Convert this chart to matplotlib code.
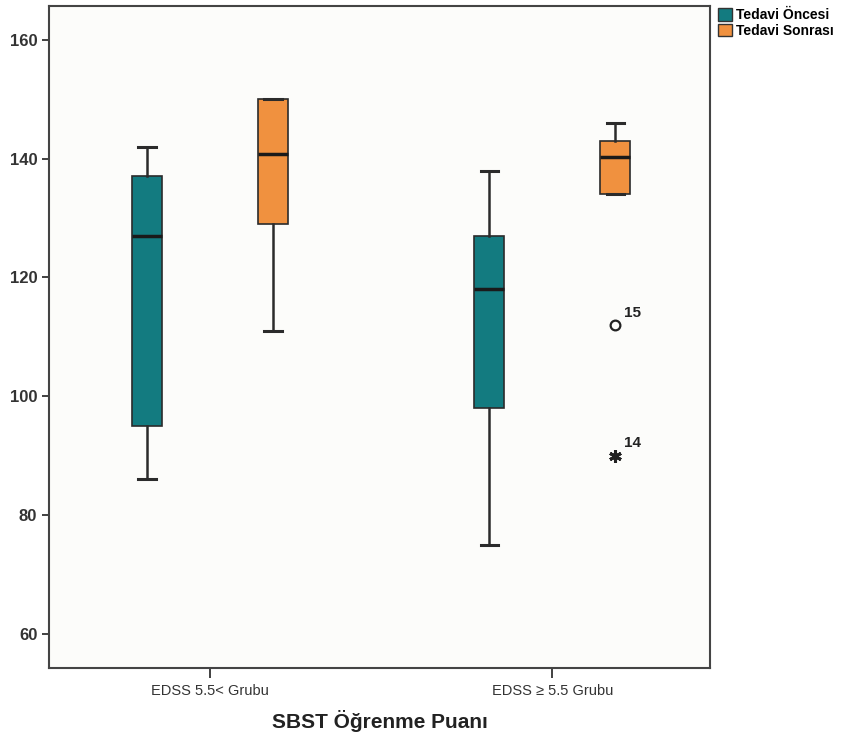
import matplotlib.pyplot as plt
from matplotlib.patches import Patch

# five-number summaries per group: low whisker, Q1, median, Q3, high whisker
groups = ["EDSS 5.5< Grubu", "EDSS \u2265 5.5 Grubu"]
series = ["Tedavi Öncesi", "Tedavi Sonrası"]
colors = ["#137B80", "#F0913F"]

before_stats = [[86, 95, 127, 137, 142], [75, 98, 118, 127, 138]]
after_stats = [[111, 129, 140.7, 150, 150], [134, 134, 140.2, 143, 146]]

# outlier (circle) and extreme (star) cases in the second group, after treatment
outlier_vals = [112]
outlier_ids = ["15"]
extreme_vals = [90]
extreme_ids = ["14"]

plt.rcParams["font.family"] = ["Liberation Sans", "DejaVu Sans"]

fig = plt.figure(figsize=(8.47, 7.42), dpi=100)
ax = fig.add_axes([0.058, 0.100, 0.780, 0.892])
ax.set_facecolor("#FCFCFA")

offset = 0.184
width = 0.088


def make_stats(vals):
    lo, q1, med, q3, hi = vals
    return dict(whislo=lo, q1=q1, med=med, q3=q3, whishi=hi, fliers=[])


for k, (stats, col) in enumerate(zip([before_stats, after_stats], colors)):
    pos = [i + (2 * k - 1) * offset for i in range(len(groups))]
    ax.bxp([make_stats(s) for s in stats], positions=pos, widths=width,
           patch_artist=True, showfliers=False, capwidths=0.05,
           boxprops=dict(facecolor=col, edgecolor="#2b2b2b", linewidth=1.2),
           medianprops=dict(color="#1a1a1a", linewidth=2.5),
           whiskerprops=dict(color="#2b2b2b", linewidth=1.8),
           capprops=dict(color="#2b2b2b", linewidth=2.2))

x_out = 1 + offset
for v, lab in zip(outlier_vals, outlier_ids):
    ax.plot(x_out, v, marker="o", markersize=7, markerfacecolor="none",
            markeredgecolor="#222222", markeredgewidth=1.6, linestyle="none")
    ax.annotate(lab, (x_out, v), xytext=(6, 6), textcoords="offset points",
                fontsize=11, fontweight="bold", color="#222222")
for v, lab in zip(extreme_vals, extreme_ids):
    ax.plot(x_out, v, marker=(6, 2, 0), markersize=9, markeredgewidth=2.2,
            color="#222222", linestyle="none")
    ax.annotate(lab, (x_out, v), xytext=(6, 6), textcoords="offset points",
                fontsize=11, fontweight="bold", color="#222222")

ax.set_xlim(-0.47, 1.46)
ax.set_ylim(54.3, 165.7)
ax.set_yticks([60, 80, 100, 120, 140, 160])
ax.set_xticks(range(len(groups)))
ax.set_xticklabels(groups, fontsize=10.5)
ax.tick_params(axis="y", labelsize=12, length=5, width=1.3, colors="#333333")
ax.tick_params(axis="x", length=7, width=1.3, colors="#333333", pad=5)
for lab in ax.get_yticklabels():
    lab.set_fontweight("bold")
for sp in ax.spines.values():
    sp.set_color("#444444")
    sp.set_linewidth(1.5)

ax.set_xlabel("SBST Öğrenme Puanı", fontsize=15, fontweight="bold",
              color="#222222", labelpad=8)

handles = [Patch(facecolor=c, edgecolor="#333333", label=s) for c, s in zip(colors, series)]
fig.legend(handles=handles, loc="upper left", bbox_to_anchor=(0.838, 1.0),
           frameon=False, prop=dict(size=10, weight="bold"), handlelength=1.0,
           handleheight=1.0, handletextpad=0.3, labelspacing=0.1, borderaxespad=0.2)

fig.savefig("out.png", dpi=100, facecolor="white")
